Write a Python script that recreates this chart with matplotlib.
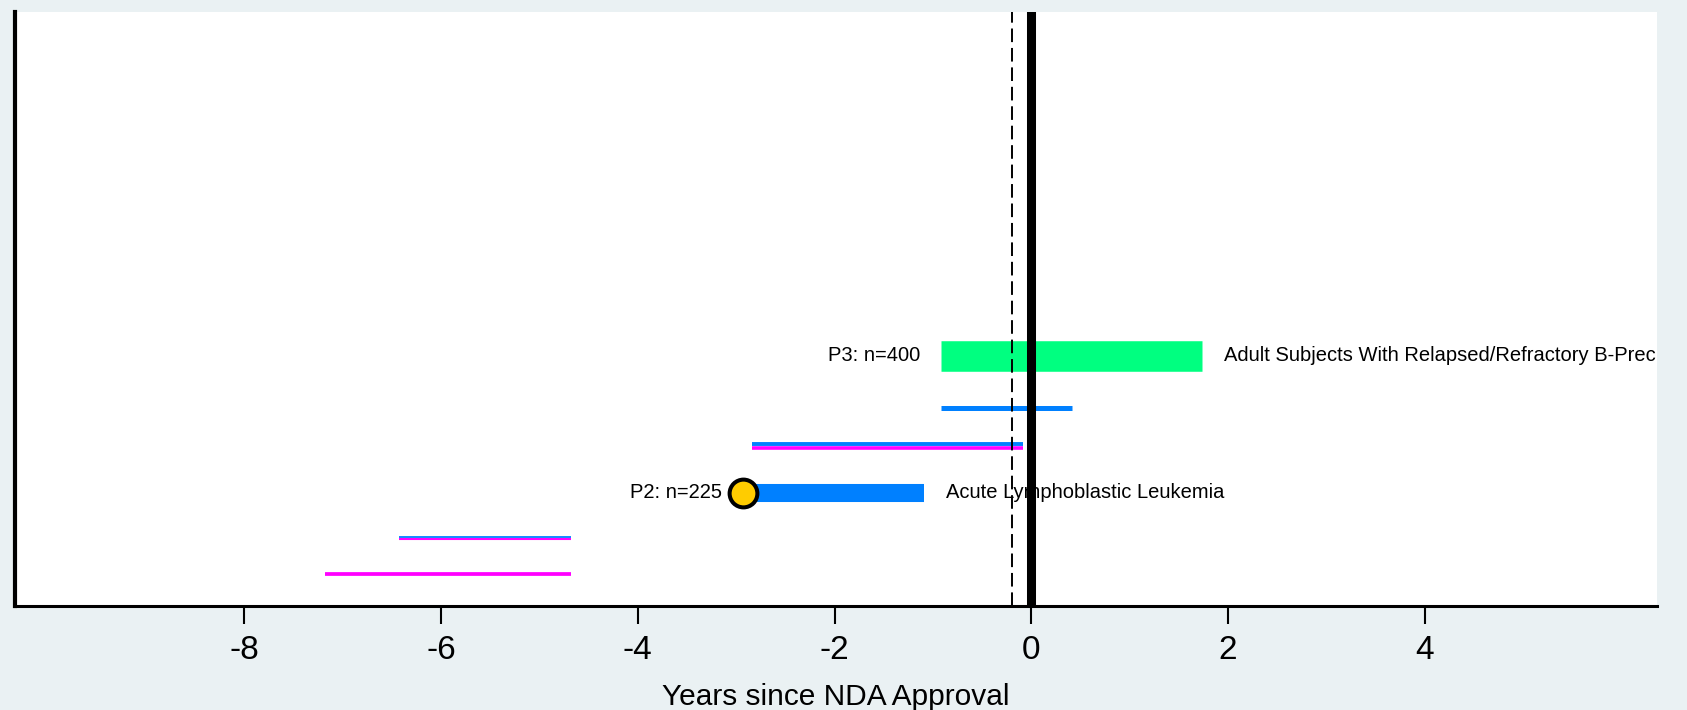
"""Trial timeline vs NDA approval — horizontal segment chart."""
import numpy as np
import matplotlib
matplotlib.use('Agg')
import matplotlib.pyplot as plt

plt.rcParams['font.family'] = ['Liberation Sans', 'DejaVu Sans']

# ---- data (years since NDA approval) ----
row_y     = [0.9, 1.9, 3.15, 4.45, 5.5, 6.95]
row_start = [-7.18, -6.43, -2.93, -2.84, -0.92, -0.92]
row_end   = [-4.68, -4.68, -1.09, -0.085, 0.41, 1.74]
row_kind  = ['magenta', 'pair_thin', 'phase2', 'pair', 'blue', 'phase3']

left_labels  = {2: 'P2: n=225', 5: 'P3: n=400'}
right_labels = {2: 'Acute Lymphoblastic Leukemia',
                5: 'Adult Subjects With Relapsed/Refractory B-Precursor '
                   'Acute Lymphoblastic Leukemia'}
marker_rows = [2]          # rows with a start marker
ref_dashed = -0.20         # dashed reference line
ref_solid = 0.0            # NDA approval

xticks = [-8, -6, -4, -2, 0, 2, 4]

BLUE = '#0080FF'
MAGENTA = '#FF00FF'
GREEN = '#00FF80'
GOLD = '#FFCC00'
BG = '#EAF1F3'

fig = plt.figure(figsize=(16.87, 7.10), dpi=100, facecolor=BG)
ax = fig.add_axes([0.0089, 0.1465, 0.9733, 0.8362])
ax.set_facecolor('white')

for y, x0, x1, kind in zip(row_y, row_start, row_end, row_kind):
    if kind == 'magenta':
        ax.hlines(y, x0, x1, color=MAGENTA, lw=2.7)
    elif kind == 'pair_thin':
        ax.hlines(y - 0.025, x0, x1, color=MAGENTA, lw=1.5)
        ax.hlines(y + 0.025, x0, x1, color=BLUE, lw=1.3)
    elif kind == 'pair':
        ax.hlines(y - 0.05, x0, x1, color=MAGENTA, lw=2.6)
        ax.hlines(y + 0.04, x0, x1, color=BLUE, lw=2.8)
    elif kind == 'blue':
        ax.hlines(y, x0, x1, color=BLUE, lw=3.6)
    elif kind == 'phase2':
        ax.hlines(y, x0, x1, color=BLUE, lw=13)
    elif kind == 'phase3':
        ax.hlines(y, x0, x1, color=GREEN, lw=22)

for i in marker_rows:
    ax.plot(row_start[i], row_y[i], 'o', ms=20, mfc=GOLD, mec='black',
            mew=2.9, zorder=5)

for i, txt in left_labels.items():
    xoff = 0.21 if i in marker_rows else 0.21
    ax.text(row_start[i] - xoff, row_y[i], txt, ha='right', va='center',
            fontsize=14.5, clip_on=True)
for i, txt in right_labels.items():
    ax.text(row_end[i] + 0.22, row_y[i], txt, ha='left', va='center',
            fontsize=14.5, clip_on=True)

ax.axvline(ref_dashed, color='black', lw=1.4, ls=(0, (7, 3)), zorder=3)
ax.axvline(ref_solid, color='black', lw=6.5, zorder=4)

ax.set_xlim(-10.33, 6.36)
ax.set_ylim(0, 16.5)
ax.set_xticks(xticks)
ax.set_xticklabels([str(t) for t in xticks], fontsize=24)
ax.set_yticks([])
ax.tick_params(axis='x', length=13, width=1.5, pad=8, direction='out')
for s in ['top', 'right']:
    ax.spines[s].set_visible(False)
ax.spines['left'].set_linewidth(3)
ax.spines['bottom'].set_linewidth(2.2)
ax.set_xlabel('Years since NDA Approval', fontsize=21.5, labelpad=12)

fig.savefig('out.png', dpi=100, facecolor=BG)
